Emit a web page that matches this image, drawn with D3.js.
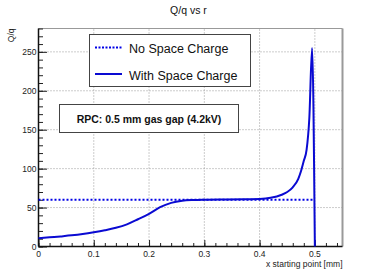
<!DOCTYPE html>
<html>
<head>
<meta charset="utf-8">
<script src="https://cdn.jsdelivr.net/npm/d3@7"></script>
<style>
body { margin:0; background:#fff; }
text { font-family: "Liberation Sans", Arial, sans-serif; }
</style>
</head>
<body>
<div id="plot"></div>
<script>
// data
var xPos = [0, 0.02, 0.04, 0.06, 0.08, 0.1, 0.12, 0.14, 0.16, 0.18, 0.2, 0.22, 0.24, 0.26, 0.28, 0.3,
            0.34, 0.38, 0.4, 0.42, 0.44, 0.45, 0.46, 0.47, 0.475, 0.48, 0.485, 0.49, 0.495, 0.5];
var withSC = [10.5, 11.8, 13, 14.3, 16, 18.2, 20.8, 24, 28.5, 35, 42, 50.5, 56, 58.8, 59.8, 60.2,
              60.5, 60.7, 61, 62.5, 66.5, 70, 76, 87, 97, 110, 124, 165, 255, 0];
var noSCx = [0, 0.5];
var noSC = [60.1, 60.1];
var xTicks = [0, 0.1, 0.2, 0.3, 0.4, 0.5];
var yTicks = [0, 50, 100, 150, 200, 250];

var W = 381, H = 275;
var margin = {t:28.5, r:38.5, b:28.5, l:38.5};

var svg = d3.select('#plot').append('svg')
    .attr('width', W).attr('height', H);

var x = d3.scaleLinear().domain([0, 0.55]).range([margin.l, W - margin.r]);
var y = d3.scaleLinear().domain([0, 280]).range([H - margin.b, margin.t]);

// grid
svg.append('g').selectAll('line').data(xTicks.slice(1)).enter().append('line')
    .attr('x1', d => x(d)).attr('x2', d => x(d))
    .attr('y1', y(0)).attr('y2', y(280))
    .attr('stroke', '#999').attr('stroke-dasharray', '1,2');
svg.append('g').selectAll('line').data(yTicks.slice(1)).enter().append('line')
    .attr('x1', x(0)).attr('x2', x(0.55))
    .attr('y1', d => y(d)).attr('y2', d => y(d))
    .attr('stroke', '#999').attr('stroke-dasharray', '1,2');

// frame: top and right in gray
svg.append('line').attr('x1', x(0)).attr('x2', x(0.55)).attr('y1', y(280)).attr('y2', y(280))
    .attr('stroke', '#999');
svg.append('line').attr('x1', x(0.55)).attr('x2', x(0.55)).attr('y1', y(280)).attr('y2', y(0))
    .attr('stroke', '#999').attr('stroke-width', 2);

// axes with ticks pointing inward
var xAxis = d3.axisTop(x).tickValues(d3.range(0, 0.5501, 0.02)).tickSize(3.5).tickFormat('');
svg.append('g').attr('transform', 'translate(0,' + y(0) + ')').call(xAxis)
    .call(g => g.select('.domain').remove());
var xMajor = d3.axisTop(x).tickValues(xTicks).tickSize(6.5).tickFormat('');
svg.append('g').attr('transform', 'translate(0,' + y(0) + ')').call(xMajor)
    .call(g => g.select('.domain').remove());

var yAxis = d3.axisRight(y).tickValues(d3.range(0, 281, 10)).tickSize(4.5).tickFormat('');
svg.append('g').attr('transform', 'translate(' + x(0) + ',0)').call(yAxis)
    .call(g => g.select('.domain').remove());
var yMajor = d3.axisRight(y).tickValues(yTicks).tickSize(8.5).tickFormat('');
svg.append('g').attr('transform', 'translate(' + x(0) + ',0)').call(yMajor)
    .call(g => g.select('.domain').remove());

svg.selectAll('.tick line').attr('stroke', '#222');

svg.append('line').attr('x1', x(0)).attr('x2', x(0.55)).attr('y1', y(0)).attr('y2', y(0))
    .attr('stroke', '#111').attr('stroke-width', 1.5);
svg.append('line').attr('x1', x(0)).attr('x2', x(0)).attr('y1', y(0)).attr('y2', y(280))
    .attr('stroke', '#111').attr('stroke-width', 1.5);

// tick labels
svg.append('g').selectAll('text').data(xTicks).enter().append('text')
    .attr('x', d => x(d)).attr('y', 256.5)
    .attr('text-anchor', 'middle').attr('font-size', 8.5).attr('fill', '#222')
    .text(d => d === 0 ? '0' : d3.format('.1f')(d));
svg.append('g').selectAll('text').data(yTicks).enter().append('text')
    .attr('x', 36.5).attr('y', d => y(d) + 3)
    .attr('text-anchor', 'end').attr('font-size', 8.5).attr('fill', '#222')
    .text(d => d);

// titles
svg.append('text').attr('x', 188.5).attr('y', 13.5).attr('text-anchor', 'middle')
    .attr('font-size', 10.5).attr('fill', '#111').text('Q/q vs r');
svg.append('text').attr('x', x(0.55)).attr('y', 267).attr('text-anchor', 'end')
    .attr('font-size', 8.5).attr('fill', '#222').text('x starting point [mm]');
svg.append('text').attr('transform', 'translate(14,' + margin.t + ') rotate(-90)')
    .attr('text-anchor', 'end').attr('font-size', 8.5).attr('fill', '#222').text('Q/q');

// curves
var line = d3.line().x(d => x(d[0])).y(d => y(d[1]));
svg.append('path').datum(d3.zip(noSCx, noSC)).attr('d', line)
    .attr('fill', 'none').attr('stroke', '#0000e6').attr('stroke-width', 2)
    .attr('stroke-dasharray', '2,2');
svg.append('path').datum(d3.zip(xPos, withSC))
    .attr('d', line.curve(d3.curveMonotoneX))
    .attr('fill', 'none').attr('stroke', '#0a0ad2').attr('stroke-width', 2);

// legend
var leg = svg.append('g');
leg.append('rect').attr('x', 89.5).attr('y', 34.5).attr('width', 161).attr('height', 52)
    .attr('fill', '#fff').attr('stroke', '#444');
leg.append('line').attr('x1', 95).attr('x2', 122).attr('y1', 47.5).attr('y2', 47.5)
    .attr('stroke', '#0000e6').attr('stroke-width', 2).attr('stroke-dasharray', '2,1.5');
leg.append('line').attr('x1', 95).attr('x2', 122).attr('y1', 74).attr('y2', 74)
    .attr('stroke', '#0a0ad2').attr('stroke-width', 2);
leg.append('text').attr('x', 129).attr('y', 53).attr('font-size', 12.5).attr('fill', '#111')
    .text('No Space Charge');
leg.append('text').attr('x', 129).attr('y', 79.5).attr('font-size', 12.5).attr('fill', '#111')
    .text('With Space Charge');

// info box
var pave = svg.append('g');
pave.append('rect').attr('x', 59.5).attr('y', 104.5).attr('width', 179).attr('height', 28)
    .attr('fill', '#fff').attr('stroke', '#444');
pave.append('text').attr('x', 149).attr('y', 122.5).attr('text-anchor', 'middle')
    .attr('font-size', 10.5).attr('font-weight', 'bold').attr('fill', '#111')
    .text('RPC: 0.5 mm gas gap (4.2kV)');
</script>
</body>
</html>
